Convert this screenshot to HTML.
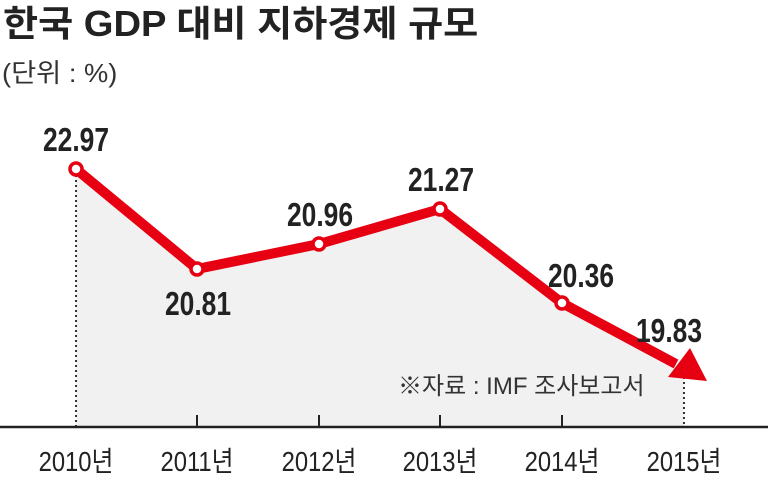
<!DOCTYPE html>
<html><head><meta charset="utf-8"><style>
body{margin:0;width:768px;height:481px;background:#fff;overflow:hidden}
svg text{font-family:"Liberation Sans","Noto Sans CJK KR",sans-serif}
</style></head><body>
<svg width="768" height="481" viewBox="0 0 768 481">
<polygon points="76,169 197,269 319,244 440,209 562,303 684,368 684,427 76,427" fill="#f1f1f1"/>
<line x1="76" y1="175" x2="76" y2="427" stroke="#333" stroke-width="2" stroke-dasharray="2,3"/>
<line x1="684" y1="372" x2="684" y2="427" stroke="#333" stroke-width="2" stroke-dasharray="2,3"/>
<line x1="0" y1="427" x2="768" y2="427" stroke="#222" stroke-width="2.5"/>
<g stroke="#222" stroke-width="2"><line x1="197" y1="415" x2="197" y2="427"/><line x1="319" y1="415" x2="319" y2="427"/><line x1="440" y1="415" x2="440" y2="427"/><line x1="562" y1="415" x2="562" y2="427"/></g>
<polyline points="76,169 197,269 319,244 440,209 562,303 676,364" fill="none" stroke="#e60012" stroke-width="10" stroke-linejoin="round"/>
<polygon points="707,381 668,377 690,348" fill="#e60012"/>
<g fill="#fff" stroke="#e60012" stroke-width="3.5">
<circle cx="76" cy="169" r="6"/><circle cx="197" cy="269" r="6"/><circle cx="319" cy="244" r="6"/><circle cx="440" cy="209" r="6"/><circle cx="562" cy="303" r="6"/></g>
<text transform="translate(3,36) scale(1.06,1)" font-size="36" font-weight="bold" fill="#222">한국 GDP 대비 지하경제 규모</text>
<text transform="translate(2,82) scale(1.05,1)" font-size="26" fill="#333">(단위 : %)</text>
<g font-size="33" font-weight="bold" fill="#222" text-anchor="middle">
<text transform="translate(76,151) scale(0.8,1)">22.97</text>
<text transform="translate(198,315) scale(0.8,1)">20.81</text>
<text transform="translate(320,226) scale(0.8,1)">20.96</text>
<text transform="translate(441,191) scale(0.8,1)">21.27</text>
<text transform="translate(581,287) scale(0.8,1)">20.36</text>
<text transform="translate(669,342) scale(0.8,1)">19.83</text>
</g>
<text transform="translate(398,394)" font-size="24" fill="#333">※자료 : IMF 조사보고서</text>
<g font-size="28" fill="#222" text-anchor="middle">
<text transform="translate(76,471) scale(0.85,1)">2010년</text>
<text transform="translate(197,471) scale(0.85,1)">2011년</text>
<text transform="translate(319,471) scale(0.85,1)">2012년</text>
<text transform="translate(440,471) scale(0.85,1)">2013년</text>
<text transform="translate(562,471) scale(0.85,1)">2014년</text>
<text transform="translate(684,471) scale(0.85,1)">2015년</text>
</g>
</svg>
</body></html>
